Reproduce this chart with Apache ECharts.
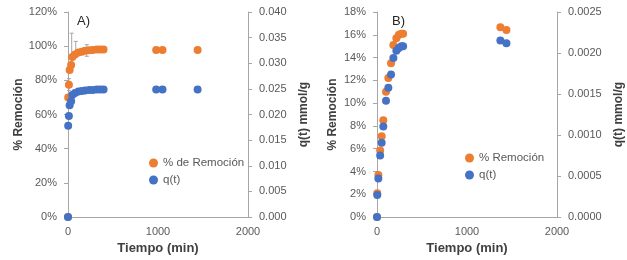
<!DOCTYPE html>
<html><head><meta charset="utf-8">
<script src="https://cdn.jsdelivr.net/npm/echarts@6/dist/echarts.min.js"></script>
<style>html,body{margin:0;padding:0;background:#fff}#c{width:627px;height:260px}</style>
</head><body><div id="c"></div>
<script>
// ---- Panel A ----
const timeA = [0, 2, 10, 18, 35, 48, 78, 115, 153, 190, 235, 276, 320, 358, 395, 980, 1050, 1440];
const remA  = [0, 70, 77.5, 86, 89, 93.7, 95.2, 96.3, 96.8, 97.3, 97.6, 97.8, 98, 98, 98, 97.8, 97.8, 97.8];
const qA    = [0, 0.0178, 0.0197, 0.0218, 0.0226, 0.0238, 0.0242, 0.0245, 0.0246, 0.0247, 0.0248, 0.0248, 0.0249, 0.0249, 0.0249, 0.0249, 0.0249, 0.0249];
const errTimeA = [10, 41, 86, 209];
const errLowA  = [74, 90.2, 96, 94.1];
const errHighA = [81, 107.6, 102.8, 100.9];
// ---- Panel B ----
const timeB = [0, 3, 15, 35, 52, 70, 100, 126, 156, 182, 215, 243, 270, 290, 1371, 1438];
const remB  = [0, 2.1, 3.7, 5.85, 7.1, 8.5, 11.0, 12.2, 13.5, 15.1, 15.7, 16.0, 16.1, 16.1, 16.67, 16.43];
const qB    = [0, 0.000269, 0.000471, 0.000752, 0.000906, 0.001103, 0.001417, 0.001578, 0.001739, 0.00194, 0.002029, 0.002062, 0.002081, 0.002081, 0.002153, 0.00212];
// ---- Axis ticks ----
const xTicks = {min: 0, max: 2000, interval: 1000};
const leftA = {min: 0, max: 120, interval: 20};
const rightA = {min: 0, max: 0.04, interval: 0.005};
const leftB = {min: 0, max: 18, interval: 2};
const rightB = {min: 0, max: 0.0025, interval: 0.0005};

const ORANGE = '#ED7D31', BLUE = '#4472C4', AX = '#a6a6a6', LBL = '#595959', TTL = '#404040';
const FF = 'Liberation Sans';
const pair = (xs, ys) => xs.map((x, i) => [x, ys[i]]);

function xAx(idx) {
  return {gridIndex: idx, type: 'value', ...xTicks, name: 'Tiempo (min)', nameLocation: 'middle', nameGap: 24,
    nameTextStyle: {fontFamily: FF, fontSize: 13, fontWeight: 'bold', color: TTL},
    axisLine: {show: true, lineStyle: {color: AX}}, axisTick: {show: false},
    axisLabel: {fontFamily: FF, fontSize: 11, color: LBL, margin: 9, formatter: v => String(v)}, splitLine: {show: false}};
}
function yAx(idx, t, pos, name, gap, fmt) {
  return {gridIndex: idx, type: 'value', position: pos, ...t, name: name, nameLocation: 'middle', nameGap: gap, nameRotate: 90,
    nameTextStyle: {fontFamily: FF, fontSize: 12, fontWeight: 'bold', color: TTL},
    axisLine: {show: true, lineStyle: {color: AX}}, axisTick: {show: true, length: 4, lineStyle: {color: AX}},
    axisLabel: {fontFamily: FF, fontSize: 11, color: LBL, margin: 11, formatter: fmt}, splitLine: {show: false}};
}
const errData = errTimeA.map((t, i) => [t, errLowA[i], errHighA[i]]);

const chart = echarts.init(document.getElementById('c'), null, {renderer: 'canvas'});
chart.setOption({
  animation: false,
  title: [
    {text: 'A)', left: 72, top: 10, textStyle: {fontFamily: FF, fontSize: 13, fontWeight: 'normal', color: '#262626'}},
    {text: 'B)', left: 387, top: 10, textStyle: {fontFamily: FF, fontSize: 13, fontWeight: 'normal', color: '#262626'}}
  ],
  grid: [
    {left: 68, top: 12, width: 180, height: 207},
    {left: 377, top: 12, width: 180, height: 207}
  ],
  xAxis: [xAx(0), xAx(1)],
  yAxis: [
    yAx(0, leftA, 'left', '% Remoción', 42, '{value}%'),
    yAx(0, rightA, 'right', 'q(t) mmol/g', 50, v => v.toFixed(3)),
    yAx(1, leftB, 'left', '% Remoción', 38, '{value}%'),
    yAx(1, rightB, 'right', 'q(t) mmol/g', 56, v => v.toFixed(4))
  ],
  legend: [
    {orient: 'vertical', left: 144, top: 152, itemGap: 5, itemWidth: 9, itemHeight: 9, icon: 'circle',
      textStyle: {fontFamily: FF, fontSize: 11.5, color: LBL}, data: ['% de Remoción', 'q(t)']},
    {orient: 'vertical', left: 460, top: 147, itemGap: 5, itemWidth: 9, itemHeight: 9, icon: 'circle',
      textStyle: {fontFamily: FF, fontSize: 11.5, color: LBL}, data: ['% Remoción', 'q(t) ']}
  ],
  series: [
    {type: 'custom', xAxisIndex: 0, yAxisIndex: 0, data: errData, silent: true, z: 1,
      renderItem: function (params, api) {
        const x = api.coord([api.value(0), api.value(1)]);
        const y = api.coord([api.value(0), api.value(2)]);
        const st = {stroke: '#a6a6a6', lineWidth: 1};
        return {type: 'group', children: [
          {type: 'line', shape: {x1: x[0], y1: x[1], x2: y[0], y2: y[1]}, style: st},
          {type: 'line', shape: {x1: x[0] - 2, y1: x[1], x2: x[0] + 2, y2: x[1]}, style: st},
          {type: 'line', shape: {x1: y[0] - 2, y1: y[1], x2: y[0] + 2, y2: y[1]}, style: st}
        ]};
      }},
    {name: '% de Remoción', type: 'scatter', xAxisIndex: 0, yAxisIndex: 0, data: pair(timeA, remA), symbolSize: 8, itemStyle: {color: ORANGE, opacity: 1}, z: 2},
    {name: 'q(t)', type: 'scatter', xAxisIndex: 0, yAxisIndex: 1, data: pair(timeA, qA), symbolSize: 8, itemStyle: {color: BLUE, opacity: 1}, z: 3},
    {name: '% Remoción', type: 'scatter', xAxisIndex: 1, yAxisIndex: 2, data: pair(timeB, remB), symbolSize: 8, itemStyle: {color: ORANGE, opacity: 1}, z: 2},
    {name: 'q(t) ', type: 'scatter', xAxisIndex: 1, yAxisIndex: 3, data: pair(timeB, qB), symbolSize: 8, itemStyle: {color: BLUE, opacity: 1}, z: 3}
  ]
});
</script></body></html>
